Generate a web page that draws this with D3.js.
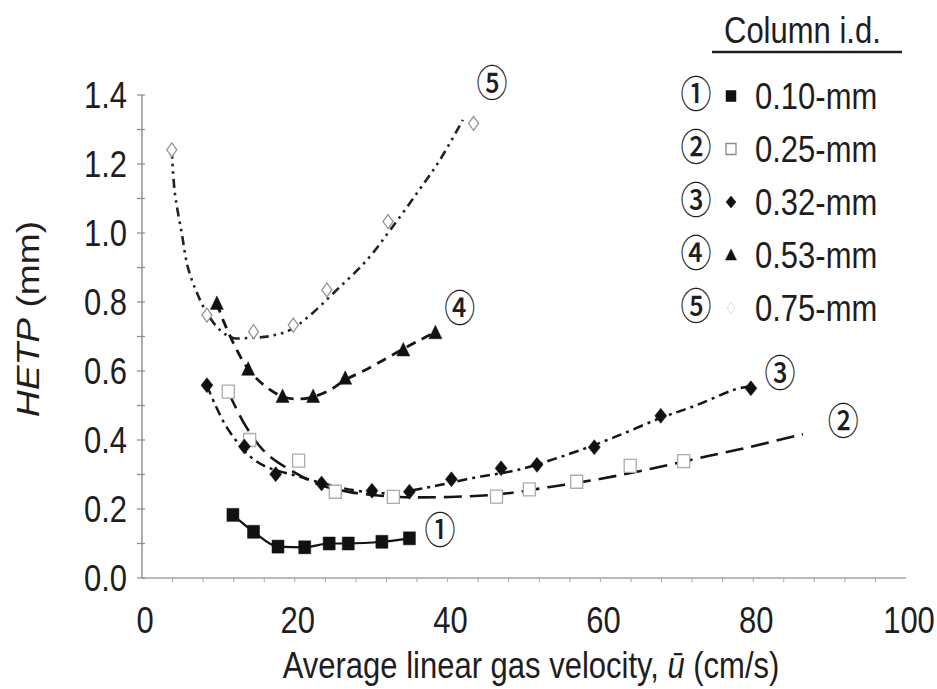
<!DOCTYPE html>
<html>
<head>
<meta charset="utf-8">
<script src="https://cdn.jsdelivr.net/npm/d3@7/dist/d3.min.js"></script>
<style>
  html, body { margin: 0; padding: 0; background: #fff; }
  svg { display: block; }
  text { font-family: "Liberation Sans", Arial, Helvetica, sans-serif; fill: #1e1e1e; }
</style>
</head>
<body>
<svg id="chart" width="937" height="689"></svg>
<script>
// ---------------- data ----------------
const seriesNames = ["0.10-mm", "0.25-mm", "0.32-mm", "0.53-mm", "0.75-mm"];
const circledNums = ["\u2460", "\u2461", "\u2462", "\u2463", "\u2464"];

// measured points: u (cm/s) and HETP (mm)
const s1u = [11.9, 14.6, 17.8, 21.3, 24.5, 27.0, 31.4, 35.0];
const s1h = [0.183, 0.134, 0.091, 0.089, 0.100, 0.100, 0.105, 0.115];

const s2u = [11.3, 14.1, 20.5, 25.3, 32.9, 46.4, 50.7, 56.9, 63.9, 70.9];
const s2h = [0.540, 0.400, 0.340, 0.250, 0.235, 0.236, 0.257, 0.279, 0.325, 0.339];

const s3u = [8.5, 13.4, 17.5, 23.5, 30.1, 35.0, 40.5, 47.0, 51.7, 59.2, 67.9, 79.7];
const s3h = [0.559, 0.381, 0.301, 0.274, 0.253, 0.250, 0.286, 0.318, 0.328, 0.379, 0.470, 0.550];

const s4u = [9.8, 13.9, 18.4, 22.4, 26.6, 34.2, 38.4];
const s4h = [0.796, 0.605, 0.526, 0.526, 0.579, 0.661, 0.711];

const s5u = [3.9, 8.5, 14.6, 19.8, 24.2, 32.2, 43.4];
const s5h = [1.241, 0.762, 0.714, 0.733, 0.835, 1.033, 1.318];

// fitted curves as drawn in the picture
const f2u = [11.3, 13.5, 16.1, 19.4, 23.3, 27.2, 33.8, 40.3, 46.9, 53.4, 59.9, 66.5, 73.0, 79.6, 86.5];
const f2h = [0.539, 0.443, 0.365, 0.313, 0.270, 0.249, 0.235, 0.235, 0.243, 0.264, 0.287, 0.316, 0.348, 0.380, 0.417];

const f3u = [8.5, 9.6, 11.5, 15.1, 20.7, 27.6, 32.5, 37.7, 43.3, 49.1, 55.6, 61.6, 67.9, 72.6, 77.4, 79.7];
const f3h = [0.559, 0.501, 0.423, 0.336, 0.293, 0.255, 0.246, 0.264, 0.290, 0.313, 0.357, 0.406, 0.464, 0.501, 0.545, 0.557];

const f4u = [9.8, 10.5, 11.9, 13.7, 15.8, 18.5, 20.7, 22.4, 24.6, 26.6, 29.5, 32.1, 34.2, 36.4, 38.4];
const f4h = [0.797, 0.754, 0.684, 0.612, 0.562, 0.525, 0.519, 0.525, 0.545, 0.574, 0.606, 0.638, 0.664, 0.690, 0.713];

const f5u = [3.9, 4.3, 5.2, 6.0, 7.2, 8.5, 10.2, 11.9, 14.1, 16.75, 19.4, 21.6, 25.5, 29.45, 32.5, 36.0, 39.0, 42.0];
const f5h = [1.241, 1.116, 1.000, 0.901, 0.826, 0.768, 0.719, 0.696, 0.696, 0.701, 0.719, 0.754, 0.835, 0.922, 1.009, 1.116, 1.212, 1.328];

// curve-label anchors (data units)
const labelU = [39.0, 91.8, 83.5, 41.6, 45.8];
const labelH = [0.133, 0.449, 0.588, 0.777, 1.429];

const xTicks = [0, 20, 40, 60, 80, 100];
const yTicks = [0.0, 0.2, 0.4, 0.6, 0.8, 1.0, 1.2, 1.4];
const yTickLabels = ["0.0", "0.2", "0.4", "0.6", "0.8", "1.0", "1.2", "1.4"];

// ---------------- drawing ----------------
const svg = d3.select("#chart");
svg.append("rect").attr("width", 937).attr("height", 689).attr("fill", "#fff");

const x = d3.scaleLinear().domain([0, 100]).range([142, 906]);
const y = d3.scaleLinear().domain([0, 1.4]).range([578, 95]);

const FS = 31;      // font size
const VS = 1.2;     // vertical stretch of the scanned lettering

function stretchedText(g, px, py, str, anchor) {
  return g.append("text")
    .attr("transform", `translate(${px},${py}) scale(1,${VS})`)
    .attr("text-anchor", anchor || "start")
    .attr("font-size", FS)
    .text(str);
}

// axes
const axisG = svg.append("g");
axisG.append("line")
  .attr("x1", x(0)).attr("x2", x(0)).attr("y1", y(0)).attr("y2", y(1.4))
  .attr("stroke", "#8a8a8a").attr("stroke-width", 1.4);
axisG.append("line")
  .attr("x1", x(0)).attr("x2", x(100)).attr("y1", y(0)).attr("y2", y(0))
  .attr("stroke", "#a5a5a5").attr("stroke-width", 1.3);

// y ticks (every 0.1)
const yMinor = d3.range(0, 1.41, 0.1);
axisG.selectAll(".ytk").data(yMinor).enter().append("line")
  .attr("x1", x(0) - 5).attr("x2", x(0) + 3)
  .attr("y1", d => y(d)).attr("y2", d => y(d))
  .attr("stroke", "#8a8a8a").attr("stroke-width", 1.2);

// x ticks (every 4)
const xMinor = d3.range(4, 100, 4);
axisG.selectAll(".xtk").data(xMinor).enter().append("line")
  .attr("x1", d => x(d)).attr("x2", d => x(d))
  .attr("y1", y(0)).attr("y2", y(0) + 4)
  .attr("stroke", "#a8a8a8").attr("stroke-width", 1);

// tick labels
yTicks.forEach((v, i) => stretchedText(svg, 127, y(v) + 13, yTickLabels[i], "end"));
xTicks.forEach(v => stretchedText(svg, x(v) + 3, 633, String(v), "middle"));

// axis titles
const xt = stretchedText(svg, 531, 678, "", "middle");
xt.append("tspan").text("Average linear gas velocity, ");
xt.append("tspan").attr("font-style", "italic").text("\u016B");
xt.append("tspan").text(" (cm/s)");

const yt = svg.append("text")
  .attr("transform", `translate(39,319) rotate(-90) scale(${VS},1)`)
  .attr("text-anchor", "middle")
  .attr("font-size", FS);
yt.append("tspan").attr("font-style", "italic").text("HETP");
yt.append("tspan").text(" (mm)");

// lines
const line = d3.line().x(d => x(d[0])).y(d => y(d[1]));
const zip = (a, b) => a.map((v, i) => [v, b[i]]);

svg.append("path").datum(zip(s1u, s1h))
  .attr("d", line.curve(d3.curveMonotoneX))
  .attr("fill", "none").attr("stroke", "#111").attr("stroke-width", 2.2);

svg.append("path").datum(zip(f2u, f2h))
  .attr("d", line.curve(d3.curveCatmullRom))
  .attr("fill", "none").attr("stroke", "#151515").attr("stroke-width", 2.6)
  .attr("stroke-dasharray", "18,8");

svg.append("path").datum(zip(f3u, f3h))
  .attr("d", line.curve(d3.curveCatmullRom))
  .attr("fill", "none").attr("stroke", "#151515").attr("stroke-width", 2.5)
  .attr("stroke-dasharray", "10,5,3,5");

svg.append("path").datum(zip(f4u, f4h))
  .attr("d", line.curve(d3.curveCatmullRom))
  .attr("fill", "none").attr("stroke", "#151515").attr("stroke-width", 2.8)
  .attr("stroke-dasharray", "10,7");

svg.append("path").datum(zip(f5u, f5h))
  .attr("d", line.curve(d3.curveCatmullRom))
  .attr("fill", "none").attr("stroke", "#222").attr("stroke-width", 2.6)
  .attr("stroke-dasharray", "9,5,2.5,5,2.5,5");

// markers
function diamondPath(w, h) { return `M0,${-h/2}L${w/2},0L0,${h/2}L${-w/2},0Z`; }

function drawMarkers(us, hs, pathStr, fill, stroke, sw) {
  svg.append("g").selectAll("path").data(zip(us, hs)).enter().append("path")
    .attr("transform", d => `translate(${x(d[0])},${y(d[1])})`)
    .attr("d", pathStr)
    .attr("fill", fill).attr("stroke", stroke).attr("stroke-width", sw);
}
drawMarkers(s2u, s2h, "M-6,-6.5H6V6.5H-6Z", "#fff", "#ababab", 1.3);
drawMarkers(s5u, s5h, diamondPath(10, 14), "#fff", "#959595", 1.3);
drawMarkers(s1u, s1h, "M-6,-6.5H6V6.5H-6Z", "#111", "#111", 0.5);
drawMarkers(s3u, s3h, diamondPath(12, 15), "#111", "#111", 0.5);
drawMarkers(s4u, s4h, "M0,-7.5L6.5,6L-6.5,6Z", "#111", "#111", 0.5);

// curve labels (circled numbers)
function circled(px, py, str) {
  svg.append("text")
    .attr("transform", `translate(${px},${py + 12}) scale(1,${VS})`)
    .attr("text-anchor", "middle")
    .attr("font-size", 31)
    .attr("font-weight", 500)
    .style("font-family", "'Noto Sans CJK JP', 'Noto Sans CJK SC', 'DejaVu Sans', sans-serif")
    .text(str);
}
labelU.forEach((u, i) => circled(x(u), y(labelH[i]), circledNums[i]));

// legend
stretchedText(svg, 724, 43, "Column i.d.", "start");
svg.append("line").attr("x1", 712).attr("x2", 902).attr("y1", 52).attr("y2", 52)
  .attr("stroke", "#1e1e1e").attr("stroke-width", 2.5);

const rowY = [96, 149, 202, 255, 308];
const legMarks = [
  { d: "M-5,-5.5H5V5.5H-5Z", fill: "#111", stroke: "#111", sw: 0.5 },
  { d: "M-5,-5.5H5V5.5H-5Z", fill: "#fff", stroke: "#888", sw: 1.3 },
  { d: diamondPath(10, 12), fill: "#111", stroke: "#111", sw: 0.5 },
  { d: "M0,-6L5.5,5L-5.5,5Z", fill: "#111", stroke: "#111", sw: 0.5 },
  { d: diamondPath(8, 11), fill: "#fff", stroke: "#e2e2e2", sw: 1 }
];
seriesNames.forEach((name, i) => {
  circled(696, rowY[i], circledNums[i]);
  svg.append("path").attr("transform", `translate(731,${rowY[i]})`)
    .attr("d", legMarks[i].d).attr("fill", legMarks[i].fill)
    .attr("stroke", legMarks[i].stroke).attr("stroke-width", legMarks[i].sw);
  stretchedText(svg, 755, rowY[i] + 13, name, "start");
});
</script>
</body>
</html>
